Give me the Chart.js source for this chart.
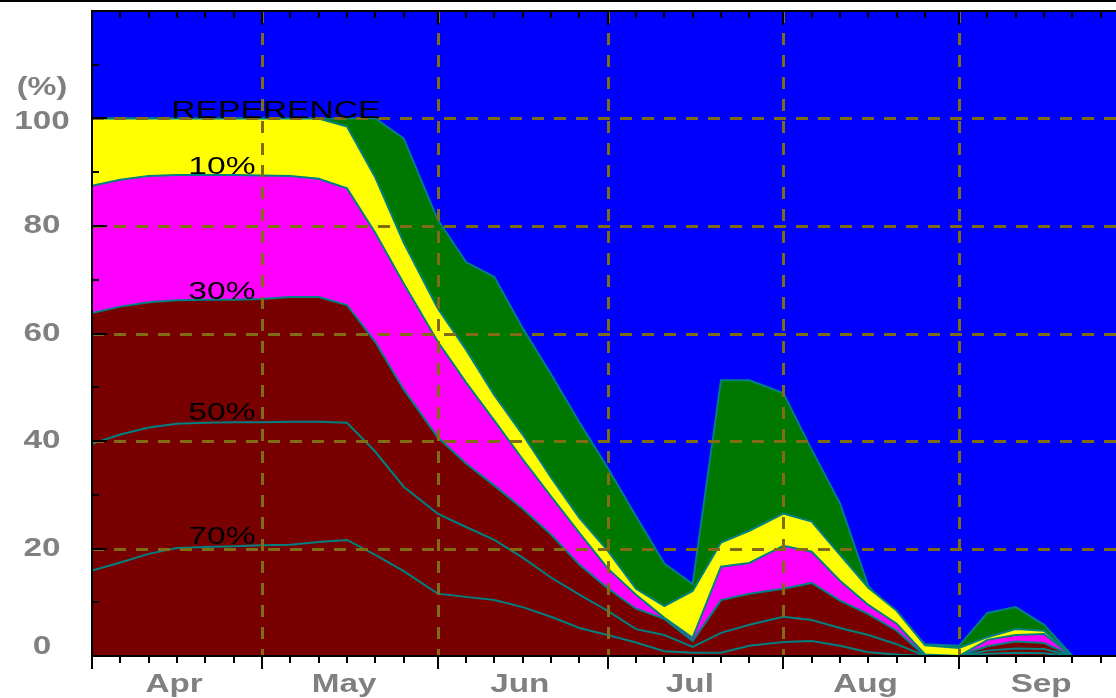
<!DOCTYPE html>
<html>
<head>
<meta charset="utf-8">
<script src="https://cdn.jsdelivr.net/npm/chart.js@4.4.1/dist/chart.umd.min.js"></script>
<style>
  html, body { margin: 0; padding: 0; background: #fff; overflow: hidden; }
  #wrap { width: 1116px; height: 698px; overflow: hidden; }
  canvas { display: block; background: #fff; }
</style>
</head>
<body>
<div id="wrap"><canvas id="myChart" width="1140" height="698"></canvas></div>
<script>
// days counted from Apr 1, one point per pentad
const monthNames = ['Apr', 'May', 'Jun', 'Jul', 'Aug', 'Sep'];
const monthStartDays = [0, 30, 61, 91, 122, 153];
const pentadDays = [0, 5, 10, 15, 20, 25, 30, 35, 40, 45, 50, 55, 61, 66, 71, 76, 81, 86,
  91, 96, 101, 106, 111, 116, 122, 127, 132, 137, 142, 147, 153, 158, 163, 168, 173, 178, 183];
const yTickLabels = [0, 20, 40, 60, 80, 100];
const curveLabels = ['REPERENCE', '10%', '30%', '50%', '70%'];

const topValues = [100, 100, 100, 100, 100, 100, 100, 100, 100, 100, 100, 96.3, 81.2, 73.3, 70.5, 61, 52.4, 43.5,
  35, 26, 17.2, 13.4, 51.3, 51.3, 48.9, 38.4, 28.4, 13, 7.1, 2.2, 1.9, 8, 9.1, 5.8, 0, 0, 0];
const refValues = [100, 100, 100, 100, 100, 100, 100, 100, 100, 98.5, 89, 76.9, 64.7, 57, 48.5, 41.2, 33.2, 25.7,
  19.6, 12.5, 9.3, 12.1, 21.1, 23.3, 26.5, 25, 18.8, 12.7, 8.4, 2, 1.5, 3.5, 5, 4.7, 0, 0, 0];
const p10Values = [87.5, 88.6, 89.3, 89.5, 89.5, 89.5, 89.4, 89.3, 88.8, 87, 78.7, 69.3, 58.5, 50.9, 43.8, 36.6, 29.7, 22.9,
  16.3, 11.4, 7.1, 3.4, 16.6, 17.3, 20.5, 19.4, 14, 9.5, 6, 0.3, 0, 3, 3.9, 4.1, 0, 0, 0];
const p30Values = [63.8, 65, 65.8, 66.2, 66.3, 66.3, 66.4, 66.8, 66.8, 65.3, 58.4, 49.6, 40.7, 35.8, 31.7, 27.4, 22.6, 17,
  12.6, 8.8, 6.9, 2.8, 10.4, 11.6, 12.5, 13.6, 10.3, 7.8, 4.7, 0, 0, 1.8, 2.7, 2.4, 0, 0, 0];
const p50Values = [39.5, 41.2, 42.5, 43.2, 43.4, 43.5, 43.5, 43.6, 43.6, 43.4, 38, 31.5, 26.5, 24, 21.6, 18.3, 14.6, 11.4,
  8.4, 5, 3.9, 1.7, 4.3, 5.8, 7.3, 6.7, 5.2, 3.9, 2.2, 0, 0, 1, 1.4, 1.3, 0, 0, 0];
const p70Values = [15.9, 17.4, 19, 20.1, 20.3, 20.4, 20.6, 20.7, 21.2, 21.6, 18.8, 15.8, 11.6, 11, 10.4, 9.1, 7.3, 5.2,
  3.9, 2.5, 0.9, 0.6, 0.6, 1.9, 2.6, 2.8, 1.9, 0.7, 0.3, 0, 0, 0.4, 0.6, 0.5, 0, 0, 0];

const teal = '#008080';
const gridColor = '#806c14';
const labelGray = '#808080';

function pts(values) {
    return values.map((v, i) => ({ x: pentadDays[i], y: v }));
}

function band(label, values, color, order) {
    return {
        label: label,
        data: pts(values),
        backgroundColor: color,
        borderColor: teal,
        borderWidth: 2,
        fill: color ? 'origin' : false,
        order: order
    };
}

function scaledText(ctx, text, x, y, sx) {
    ctx.save();
    ctx.translate(x, y);
    ctx.scale(sx, 1);
    ctx.fillText(text, 0, 0);
    ctx.restore();
}

const backdrop = {
    id: 'backdrop',
    beforeDatasetsDraw(chart) {
        const { ctx, chartArea: a } = chart;
        ctx.save();
        ctx.fillStyle = '#0000ff';
        ctx.fillRect(a.left, a.top, a.right - a.left, a.bottom - a.top);
        ctx.restore();
    }
};

const overlay = {
    id: 'overlay',
    afterDatasetsDraw(chart) {
        const { ctx, chartArea: a } = chart;
        const xs = chart.scales.x, ys = chart.scales.y;
        ctx.save();

        // dashed grid on top of the areas
        ctx.strokeStyle = gridColor;
        ctx.lineWidth = 3;
        ctx.setLineDash([12, 10]);
        monthStartDays.slice(1).forEach(d => {
            const x = Math.round(xs.getPixelForValue(d)) + 0.5;
            ctx.beginPath(); ctx.moveTo(x, a.top); ctx.lineTo(x, a.bottom); ctx.stroke();
        });
        yTickLabels.slice(1).forEach(v => {
            const y = Math.round(ys.getPixelForValue(v)) + 0.5;
            ctx.beginPath(); ctx.moveTo(a.left, y); ctx.lineTo(a.right, y); ctx.stroke();
        });
        ctx.setLineDash([]);

        // frame
        ctx.strokeStyle = '#000';
        ctx.lineWidth = 2;
        ctx.strokeRect(a.left, a.top, a.right - a.left, a.bottom - a.top);
        ctx.fillStyle = '#000';
        ctx.fillRect(0, 0, chart.width, 2);

        // x ticks: out at bottom, in at top
        pentadDays.forEach(d => {
            const x = Math.round(xs.getPixelForValue(d));
            const major = monthStartDays.includes(d);
            ctx.beginPath();
            ctx.moveTo(x, a.bottom); ctx.lineTo(x, a.bottom + (major ? 13 : 7));
            ctx.moveTo(x, a.top); ctx.lineTo(x, a.top + (major ? 14 : 7));
            ctx.stroke();
        });
        // y ticks every 10, inside
        for (let v = 10; v < 120; v += 10) {
            const y = Math.round(ys.getPixelForValue(v));
            ctx.beginPath(); ctx.moveTo(a.left, y); ctx.lineTo(a.left + (v % 20 === 0 ? 15 : 7), y); ctx.stroke();
        }

        // axis labels
        ctx.fillStyle = labelGray;
        ctx.font = 'bold 26px "Liberation Sans", Arial, sans-serif';
        ctx.textAlign = 'center';
        ctx.textBaseline = 'middle';
        yTickLabels.forEach(v => {
            const y = Math.min(ys.getPixelForValue(v) + (v === 100 ? 3 : 0), 647);
            scaledText(ctx, String(v), 42, y, 1.28);
        });
        scaledText(ctx, '(%)', 42, 88, 1.25);
        ctx.textBaseline = 'alphabetic';
        monthNames.forEach((m, i) => {
            const x = xs.getPixelForValue(monthStartDays[i] + 14.5);
            scaledText(ctx, m, x, 692, 1.28);
        });

        // curve labels sitting on their boundary lines
        ctx.fillStyle = '#000';
        ctx.font = '24px "Liberation Sans", Arial, sans-serif';
        ctx.textAlign = 'left';
        const labelSeries = [refValues, p10Values, p30Values, p50Values, p70Values];
        curveLabels.forEach((t, i) => {
            const day = i === 0 ? 14 : 17;
            const y = ys.getPixelForValue(labelSeries[i][3]) - (i >= 3 ? 4 : 1);
            scaledText(ctx, t, xs.getPixelForValue(day), y, 1.4);
        });
        ctx.restore();
    }
};

let config = {
    type: 'line',
    data: {
        datasets: [
            band('70%', p70Values, null, 1),
            band('50%', p50Values, null, 2),
            band('30%', p30Values, '#780000', 3),
            band('10%', p10Values, '#ff00ff', 4),
            band('REPERENCE', refValues, '#ffff00', 5),
            band('max', topValues, '#007800', 6)
        ]
    },
    options: {
        responsive: false,
        animation: false,
        devicePixelRatio: 1,
        layout: { padding: { left: 92, top: 11, right: 11, bottom: 42 } },
        elements: { point: { radius: 0 }, line: { tension: 0 } },
        scales: {
            x: { type: 'linear', min: 0, max: 183, display: false },
            y: { min: 0, max: 120, display: false }
        },
        plugins: { legend: { display: false }, tooltip: { enabled: false } }
    },
    plugins: [backdrop, overlay]
};

let myChart = new Chart(document.getElementById('myChart'), config);
</script>
</body>
</html>
